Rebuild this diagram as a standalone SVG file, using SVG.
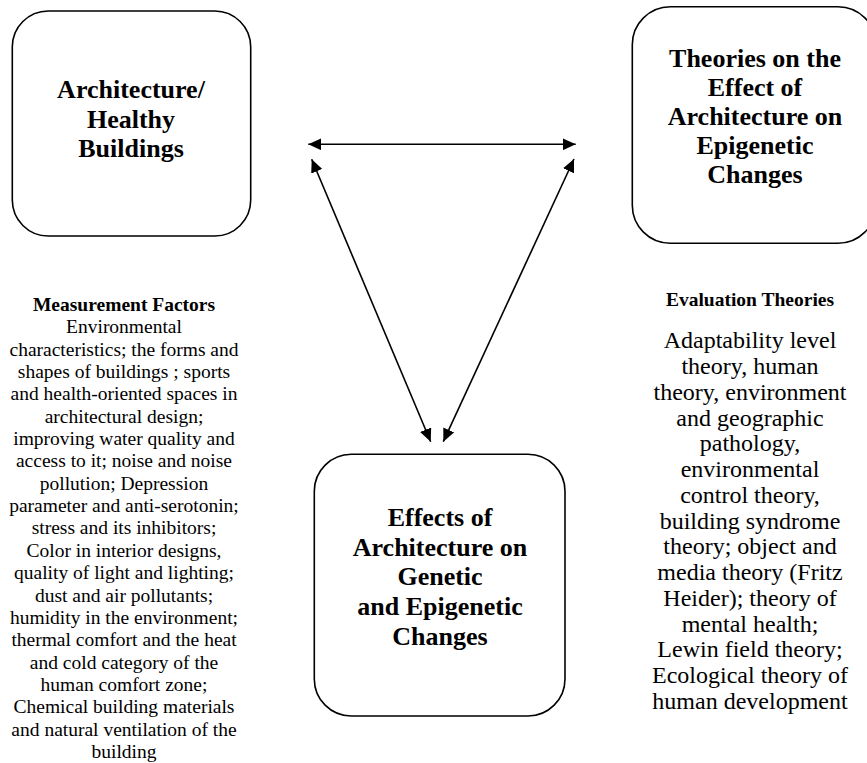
<svg xmlns="http://www.w3.org/2000/svg" width="867" height="763" viewBox="0 0 867 763">
  <style>
    .box { fill: #ffffff; stroke: #000000; stroke-width: 1.6; }
    .title { font-family: "Liberation Serif", "Times New Roman", serif; font-weight: bold; font-size: 26px; fill: #000000; text-anchor: middle; }
    .head { font-family: "Liberation Serif", "Times New Roman", serif; font-weight: bold; font-size: 19.5px; fill: #000000; text-anchor: middle; }
    .bodyL { font-family: "Liberation Serif", "Times New Roman", serif; font-size: 19.5px; fill: #000000; text-anchor: middle; }
    .bodyR { font-family: "Liberation Serif", "Times New Roman", serif; font-size: 24px; fill: #000000; text-anchor: middle; }
    .conn { stroke: #000000; stroke-width: 1.6; fill: none; marker-start: url(#arrow); marker-end: url(#arrow); }
  </style>
  <defs>
    <marker id="arrow" markerUnits="userSpaceOnUse" markerWidth="14" markerHeight="12" refX="13" refY="6" orient="auto-start-reverse" viewBox="0 0 14 12">
      <path d="M0,0 L13,6 L0,12 Z" fill="#000000"/>
    </marker>
  </defs>
  <rect x="0" y="0" width="867" height="763" fill="#ffffff"/>

  <g id="node-architecture">
    <rect class="box" x="12.3" y="11" width="238.4" height="225" rx="36" ry="36"/>
    <text class="title" x="131" y="97.5">Architecture/</text>
    <text class="title" x="131" y="127.5">Healthy</text>
    <text class="title" x="131" y="157">Buildings</text>
  </g>

  <g id="node-theories">
    <rect class="box" x="632.3" y="6.7" width="243.7" height="236.6" rx="38" ry="38"/>
    <text class="title" x="755" y="67">Theories on the</text>
    <text class="title" x="755" y="96">Effect of</text>
    <text class="title" x="755" y="125">Architecture on</text>
    <text class="title" x="755" y="154">Epigenetic</text>
    <text class="title" x="755" y="183">Changes</text>
  </g>

  <g id="node-effects">
    <rect class="box" x="314.3" y="454.3" width="250.7" height="261.7" rx="37" ry="37"/>
    <text class="title" x="440" y="526">Effects of</text>
    <text class="title" x="440" y="555.7">Architecture on</text>
    <text class="title" x="440" y="585.4">Genetic</text>
    <text class="title" x="440" y="615">and Epigenetic</text>
    <text class="title" x="440" y="644.8">Changes</text>
  </g>

  <g id="measurement-factors">
    <text class="head" x="124" y="311">Measurement Factors</text>
    <text class="bodyL" x="124" y="333.3">Environmental</text>
    <text class="bodyL" x="124" y="355.6">characteristics; the forms and</text>
    <text class="bodyL" x="124" y="378">shapes of buildings ; sports</text>
    <text class="bodyL" x="124" y="400.3">and health-oriented spaces in</text>
    <text class="bodyL" x="124" y="422.7">architectural design;</text>
    <text class="bodyL" x="124" y="445">improving water quality and</text>
    <text class="bodyL" x="124" y="467.4">access to it; noise and noise</text>
    <text class="bodyL" x="124" y="489.7">pollution; Depression</text>
    <text class="bodyL" x="124" y="512">parameter and anti-serotonin;</text>
    <text class="bodyL" x="124" y="534.4">stress and its inhibitors;</text>
    <text class="bodyL" x="124" y="556.8">Color in interior designs,</text>
    <text class="bodyL" x="124" y="579.1">quality of light and lighting;</text>
    <text class="bodyL" x="124" y="601.5">dust and air pollutants;</text>
    <text class="bodyL" x="124" y="623.8">humidity in the environment;</text>
    <text class="bodyL" x="124" y="646.2">thermal comfort and the heat</text>
    <text class="bodyL" x="124" y="668.5">and cold category of the</text>
    <text class="bodyL" x="124" y="690.9">human comfort zone;</text>
    <text class="bodyL" x="124" y="713.2">Chemical building materials</text>
    <text class="bodyL" x="124" y="735.6">and natural ventilation of the</text>
    <text class="bodyL" x="124" y="758">building</text>
  </g>

  <g id="evaluation-theories">
    <text class="head" x="750" y="306">Evaluation Theories</text>
    <text class="bodyR" x="750" y="348.3">Adaptability level</text>
    <text class="bodyR" x="750" y="374">theory, human</text>
    <text class="bodyR" x="750" y="399.8">theory, environment</text>
    <text class="bodyR" x="750" y="425.5">and geographic</text>
    <text class="bodyR" x="750" y="451.3">pathology,</text>
    <text class="bodyR" x="750" y="477">environmental</text>
    <text class="bodyR" x="750" y="502.8">control theory,</text>
    <text class="bodyR" x="750" y="528.5">building syndrome</text>
    <text class="bodyR" x="750" y="554.3">theory; object and</text>
    <text class="bodyR" x="750" y="580">media theory (Fritz</text>
    <text class="bodyR" x="750" y="605.8">Heider); theory of</text>
    <text class="bodyR" x="750" y="631.5">mental health;</text>
    <text class="bodyR" x="750" y="657.3">Lewin field theory;</text>
    <text class="bodyR" x="750" y="683">Ecological theory of</text>
    <text class="bodyR" x="750" y="708.8">human development</text>
  </g>

  <g id="connectors">
    <line class="conn" x1="308.3" y1="144.3" x2="575.7" y2="144.3"/>
    <line class="conn" x1="311.7" y1="159.3" x2="430.7" y2="441.7"/>
    <line class="conn" x1="574" y1="159" x2="443.3" y2="441.7"/>
  </g>
</svg>
